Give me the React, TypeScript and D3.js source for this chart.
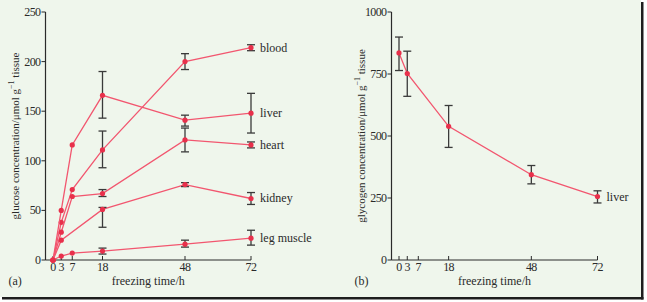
import * as d3 from "d3";

// glucose (panel a)
const timesA = [0, 3, 7, 18, 48, 72];
const bloodValues = [0, 38, 71, 111, 200, 214];
const liverValues = [0, 50, 116, 166, 141, 148];
const heartValues = [0, 28, 64, 67, 121, 116];
const kidneyValues = [0, 20, null, 51, 76, 62];
const legValues = [0, 4, 7, 9, 16, 22];

const bloodErr = [null, null, null, [93, 130], [192, 208], [211, 217]];
const liverErr = [null, null, null, [143, 190], [135, 146], [128, 168]];
const heartErr = [null, null, null, [64, 71], [109, 133], [113, 119]];
const kidneyErr = [null, null, null, [33, 53], [74, 78], [56, 68]];
const legErr = [null, null, null, [6, 12], [13, 20], [15, 30]];

const glucoseNames = ["blood", "liver", "heart", "kidney", "leg muscle"];
const glucoseTicks = [0, 50, 100, 150, 200, 250];

// glycogen (panel b)
const timesB = [0, 3, 18, 48, 72];
const glycogenValues = [835, 752, 539, 344, 256];
const glycogenErr = [[764, 899], [660, 842], [454, 623], [307, 381], [230, 279]];
const glycogenTicks = [0, 250, 500, 750, 1000];

const hourTicks = [0, 3, 7, 18, 48, 72];

const LINE = "#f2566f";
const DOT = "#e8304b";
const BAR = "#3a3a3a";
const TEXT = "#2a2a2a";
const FONT = "'Liberation Serif', 'DejaVu Serif', serif";

type Series = { name: string; times: number[]; values: (number | null)[]; err: (number[] | null)[] };

function Panel({ left, right, yMax, yTicks, series, yTitle, tag }: {
  left: number; right: number; yMax: number; yTicks: number[];
  series: Series[]; yTitle: React.ReactNode; tag: string;
}) {
  const top = 12, bottom = 260;
  const x0 = left + 7.5;
  const x = d3.scaleLinear().domain([0, 72]).range([x0, right]);
  const y = d3.scaleLinear().domain([0, yMax]).range([bottom, top]);
  const line = d3.line<[number, number]>().x((d) => x(d[0])).y((d) => y(d[1]));

  return (
    <g fontFamily={FONT} fill={TEXT}>
      <line x1={left} x2={left} y1={top} y2={bottom} stroke={TEXT} strokeWidth={1.2} />
      <line x1={left} x2={right} y1={bottom} y2={bottom} stroke={TEXT} strokeWidth={1.2} />
      {yTicks.map((t) => (
        <g key={t}>
          <line x1={left - 4} x2={left} y1={y(t)} y2={y(t)} stroke={TEXT} strokeWidth={1} />
          <text x={left - 5} y={y(t)} textAnchor="end" dominantBaseline="central" fontSize={12} letterSpacing={-0.6}>
            {t}
          </text>
        </g>
      ))}
      {hourTicks.map((t) => (
        <g key={t}>
          <line x1={x(t)} x2={x(t)} y1={bottom} y2={bottom - 4} stroke={TEXT} strokeWidth={1} />
          <text x={x(t)} y={271} textAnchor="middle" fontSize={12} letterSpacing={-0.6}>
            {t}
          </text>
        </g>
      ))}
      <text x={(left + right) / 2} y={285} textAnchor="middle" fontSize={12}>
        freezing time/h
      </text>
      <text x={left - 37} y={285} fontSize={12}>{tag}</text>
      <text
        transform={`translate(${left - 31},${(top + bottom) / 2}) rotate(-90)`}
        textAnchor="middle"
        dominantBaseline="central"
        fontSize={11}
      >
        {yTitle}
      </text>
      {series.map((s) => {
        const pts = s.times
          .map((t, i) => [t, s.values[i]] as [number, number | null])
          .filter((d) => d[1] !== null) as [number, number][];
        const last = pts[pts.length - 1];
        return (
          <g key={s.name}>
            <path d={line(pts) || ""} fill="none" stroke={LINE} strokeWidth={1.3} />
            {s.err.map((e, i) =>
              e ? (
                <g key={i} stroke={BAR} strokeWidth={1.3}>
                  <line x1={x(s.times[i])} x2={x(s.times[i])} y1={y(e[0])} y2={y(e[1])} />
                  <line x1={x(s.times[i]) - 4} x2={x(s.times[i]) + 4} y1={y(e[0])} y2={y(e[0])} />
                  <line x1={x(s.times[i]) - 4} x2={x(s.times[i]) + 4} y1={y(e[1])} y2={y(e[1])} />
                </g>
              ) : null
            )}
            {pts.map((d, i) => (
              <circle key={i} cx={x(d[0])} cy={y(d[1])} r={2.6} fill={DOT} />
            ))}
            <text x={x(last[0]) + 9} y={y(last[1])} dominantBaseline="central" fontSize={12}>
              {s.name}
            </text>
          </g>
        );
      })}
    </g>
  );
}

export default function App() {
  const glucoseValues = [bloodValues, liverValues, heartValues, kidneyValues, legValues];
  const glucoseErrs = [bloodErr, liverErr, heartErr, kidneyErr, legErr];
  const glucose: Series[] = glucoseNames.map((name, i) => ({
    name,
    times: timesA,
    values: glucoseValues[i],
    err: glucoseErrs[i],
  }));
  const glycogen: Series[] = [{ name: "liver", times: timesB, values: glycogenValues, err: glycogenErr }];

  return (
    <svg width={647} height={302} style={{ position: "absolute", left: 0, top: 0 }}>
      <rect x={0} y={0} width={647} height={302} fill="#ffffff" />
      <rect x={0} y={0} width={641} height={297} fill="#eff6ec" />
      <rect x={641} y={2} width={2.5} height={297.5} fill="#1e1e1e" />
      <rect x={2} y={297} width={641.5} height={2.5} fill="#1e1e1e" />
      <Panel
        left={45.5}
        right={251}
        yMax={250}
        yTicks={glucoseTicks}
        series={glucose}
        tag="(a)"
        yTitle={<>glucose concentration/μmol g<tspan dy={-4} fontSize={8}>−1</tspan><tspan dy={4}> tissue</tspan></>}
      />
      <Panel
        left={391.5}
        right={597.5}
        yMax={1000}
        yTicks={glycogenTicks}
        series={glycogen}
        tag="(b)"
        yTitle={<>glycogen concentration/μmol g<tspan dy={-4} fontSize={8}>−1</tspan><tspan dy={4}> tissue</tspan></>}
      />
    </svg>
  );
}
